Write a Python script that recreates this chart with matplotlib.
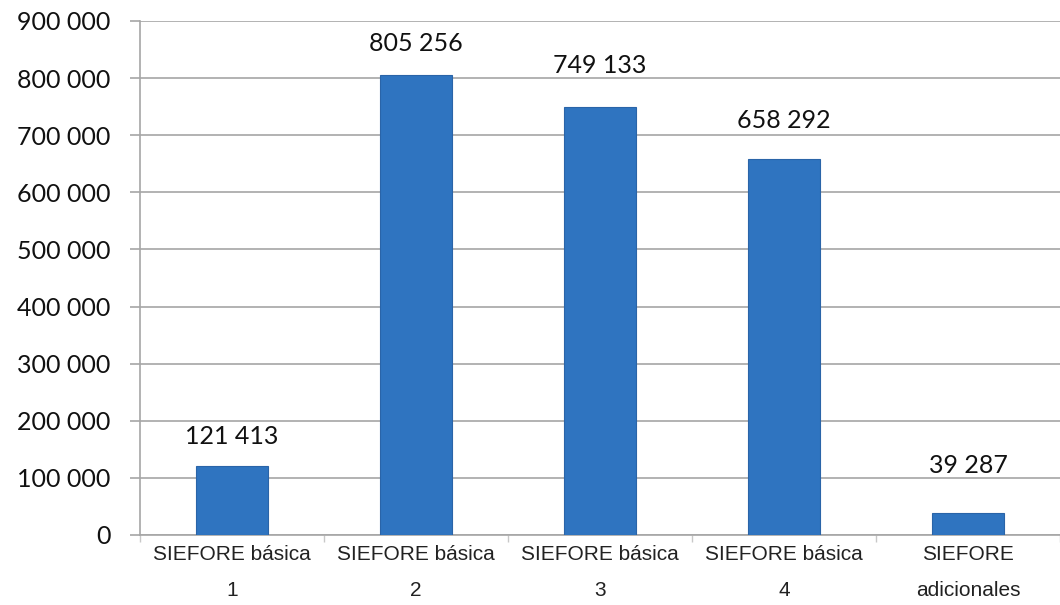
import matplotlib.pyplot as plt
import matplotlib.ticker as mticker
import numpy as np

categories = ["SIEFORE básica\n1", "SIEFORE básica\n2", "SIEFORE básica\n3",
              "SIEFORE básica\n4", "SIEFORE\nadicionales"]
values = [121413, 805256, 749133, 658292, 39287]
y_ticks = [0, 100000, 200000, 300000, 400000, 500000, 600000, 700000, 800000, 900000]

# label offsets above bar tops (points), labels were hand-placed in the original
label_offsets = [21, 23, 30, 28, 34]

bar_color = "#2f74c0"
grid_color = "#a6a6a6"
num_font = ["Lato", "DejaVu Sans"]
cat_font = ["Liberation Sans", "DejaVu Sans"]


def fmt(v, pos=None):
    return f"{int(v):,}".replace(",", " ")


fig = plt.figure(figsize=(10.6, 6.05), dpi=100)
ax = fig.add_axes([140 / 1060, 70 / 605, 920 / 1060, 514 / 605])

x = np.arange(len(values))
ax.bar(x, values, width=0.39, color=bar_color, edgecolor="#2a64a8", linewidth=0.8, zorder=3)

for xi, v, off in zip(x, values, label_offsets):
    ax.annotate(fmt(v), (xi, v), xytext=(0, off), textcoords="offset points",
                ha="center", va="center", fontsize=18, family=num_font, color="#111111")

ax.set_xlim(-0.5, len(values) - 0.5)
ax.set_ylim(0, 900000)
ax.set_yticks(y_ticks)
ax.yaxis.set_major_formatter(mticker.FuncFormatter(fmt))
ax.grid(axis="y", color=grid_color, linewidth=1.2, zorder=0)

ax.set_xticks(x)
ax.set_xticklabels(categories, family=cat_font, fontsize=15, linespacing=2.15, color="#222222")
ax.set_xticks(np.arange(len(values) + 1) - 0.5, minor=True)
ax.tick_params(axis="x", which="major", length=0, pad=7)
ax.tick_params(axis="x", which="minor", length=5, color="#c8c8c8", width=1)
ax.tick_params(axis="y", length=7, color=grid_color, width=1.2, pad=14)
for lab in ax.get_yticklabels():
    lab.set_family(num_font)
    lab.set_fontsize(18)
    lab.set_color("#111111")

for s in ["top", "right"]:
    ax.spines[s].set_visible(False)
ax.spines["left"].set_color(grid_color)
ax.spines["left"].set_linewidth(1.2)
ax.spines["bottom"].set_color(grid_color)
ax.spines["bottom"].set_linewidth(1.2)

fig.savefig("out.png", dpi=100)
